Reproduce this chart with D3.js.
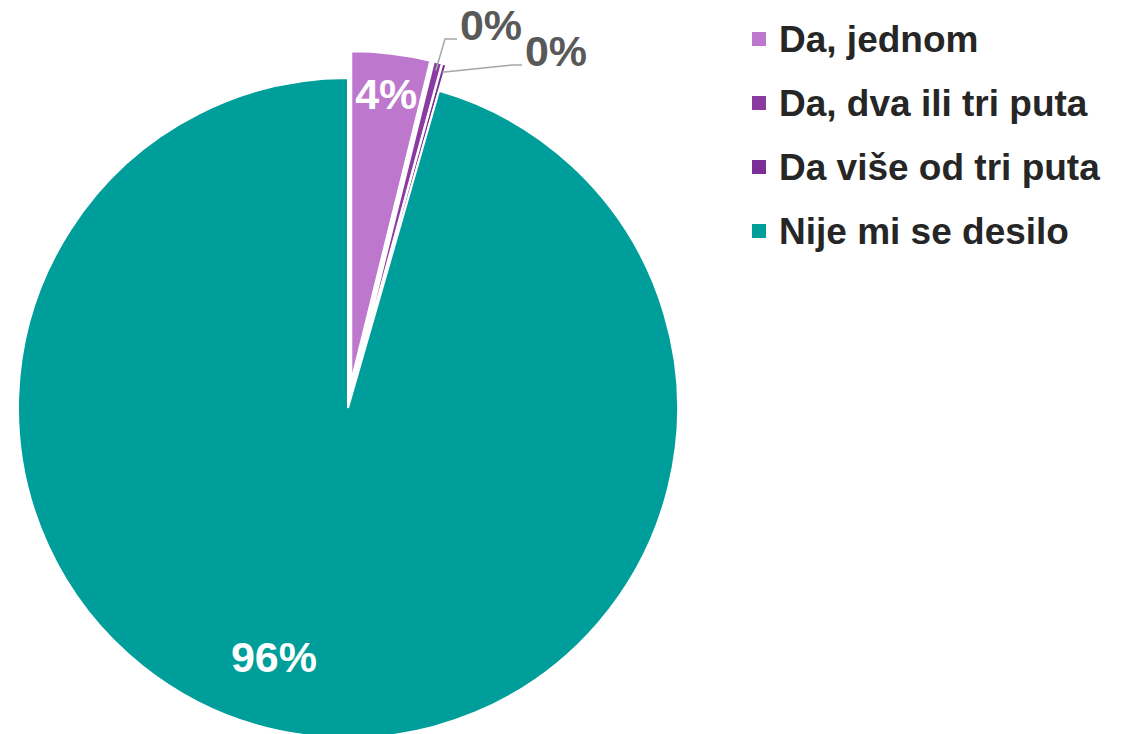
<!DOCTYPE html>
<html>
<head>
<meta charset="utf-8">
<script src="https://cdn.jsdelivr.net/npm/d3@7"></script>
<style>
  body { margin: 0; background: #fff; }
  svg text { font-family: "Liberation Sans", Arial, sans-serif; font-weight: bold; }
</style>
</head>
<body>
<svg id="chart" width="1127" height="734"></svg>
<script>
// data
var categories = ["Da, jednom", "Da, dva ili tri puta", "Da više od tri puta", "Nije mi se desilo"]
var values = [3.85, 0.4, 0.2, 95.55]
var labels = ["4%", "0%", "0%", "96%"]
var colors = ["#BD78CE", "#8A3AA0", "#7A2E96", "#009E9A"]

var width = 1127, height = 734
var cx = 348, cy = 408, radius = 330
var explode = 27

var svg = d3.select("#chart")

var data = categories.map(function(c, i) {
    return {name: c, value: values[i], label: labels[i], color: colors[i]}
})

var pie = d3.pie().sort(null).value(function(d) { return d.value })
var arcs = pie(data)

var arc = d3.arc().innerRadius(0).outerRadius(radius)

// offset of an exploded slice (teal one stays in place)
function shift(d, i) {
    if (i == 3) return [0, 0]
    var mid = (d.startAngle + d.endAngle) / 2
    return [explode * Math.sin(mid), -explode * Math.cos(mid)]
}

var g = svg.append("g").attr("transform", "translate(" + cx + "," + cy + ")")

g.selectAll("path.slice")
    .data(arcs)
    .enter().append("path")
    .attr("class", "slice")
    .attr("d", arc)
    .attr("transform", function(d, i) { var s = shift(d, i); return "translate(" + s[0] + "," + s[1] + ")" })
    .attr("fill", function(d) { return d.data.color })
    .attr("stroke", "#fff")
    .attr("stroke-width", 2)

// inside labels (4% and 96%)
var labelArcSmall = d3.arc().innerRadius(290).outerRadius(290)

arcs.forEach(function(d, i) {
    if (i == 1 || i == 2) return
    var s = shift(d, i)
    var p
    if (i == 0) {
        p = labelArcSmall.centroid(d)
    } else {
        // Excel puts the big label a bit further round than the centroid
        var a = (d.startAngle + d.endAngle) / 2 + 0.15
        p = d3.pointRadial(a, 259)
    }
    g.append("text")
        .attr("x", p[0] + s[0])
        .attr("y", p[1] + s[1])
        .attr("text-anchor", "middle")
        .attr("dy", "0.36em")
        .attr("fill", "#fff")
        .style("font-size", "43px")
        .text(d.data.label)
})

// outside labels with leader lines for the tiny slices
var outside = {1: [491, 40], 2: [556, 66]}
var elbowGap = {1: 12, 2: 10}
arcs.forEach(function(d, i) {
    if (!(i in outside)) return
    var s = shift(d, i)
    var mid = (d.startAngle + d.endAngle) / 2
    var start = d3.pointRadial(mid, radius * 0.975)
    start = [start[0] + s[0] + cx, start[1] + s[1] + cy]
    var pos = outside[i]
    var endX = pos[0] - 34
    var lineY = pos[1] - 1
    var pts = [start, [endX - elbowGap[i], lineY], [endX, lineY]]
    svg.append("path")
        .attr("d", d3.line()(pts))
        .attr("fill", "none")
        .attr("stroke", "#A6A6A6")
        .attr("stroke-width", 1.5)
    svg.append("text")
        .attr("x", pos[0])
        .attr("y", pos[1])
        .attr("text-anchor", "middle")
        .attr("fill", "#595959")
        .style("font-size", "43px")
        .text(d.data.label)
})

// legend
var legend = svg.append("g").attr("transform", "translate(752,32)")
var row = legend.selectAll("g")
    .data(data)
    .enter().append("g")
    .attr("transform", function(d, i) { return "translate(0," + (i * 64) + ")" })

row.append("rect")
    .attr("width", 14)
    .attr("height", 14)
    .attr("fill", function(d) { return d.color })

row.append("text")
    .attr("x", 27)
    .attr("y", 20)
    .attr("fill", "#262626")
    .style("font-size", "37px")
    .text(function(d) { return d.name })
</script>
</body>
</html>
